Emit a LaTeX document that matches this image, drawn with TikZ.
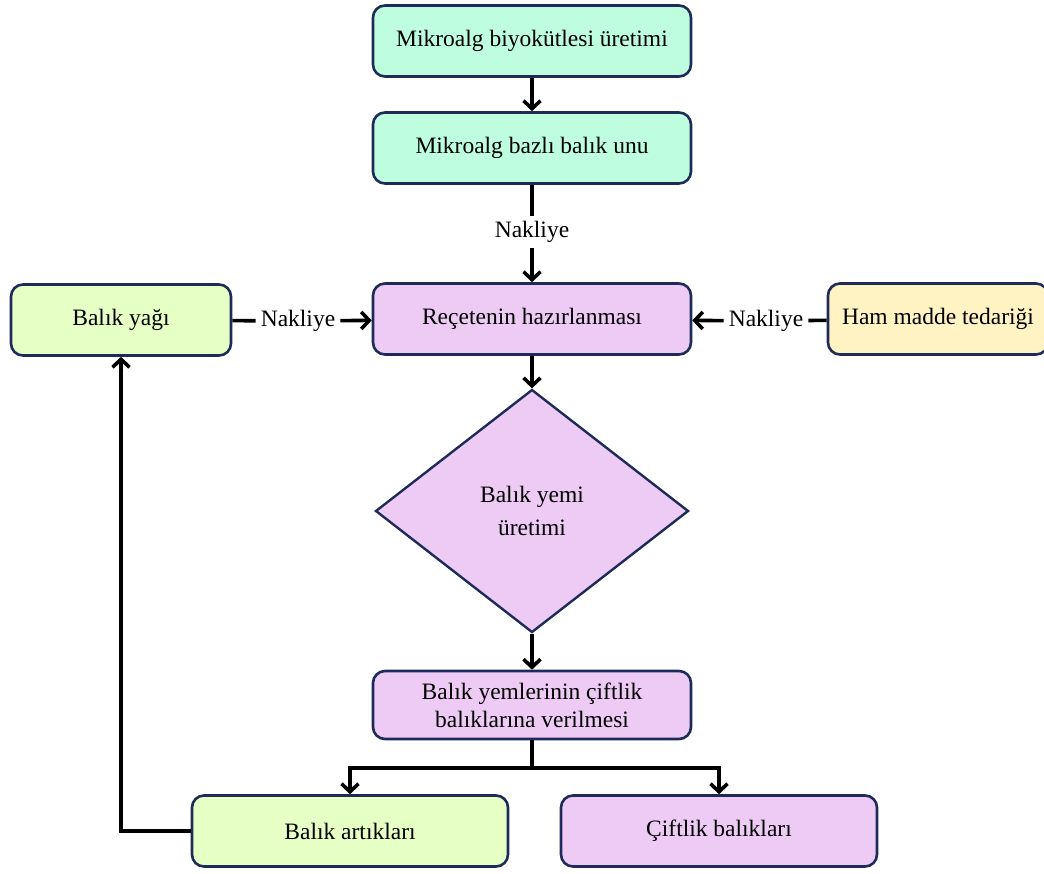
\documentclass[tikz,border=0pt]{standalone}
\usepackage{fontspec}
\setmainfont{Liberation Serif}
\usetikzlibrary{shapes.geometric,arrows.meta}

\definecolor{mint}{HTML}{BEFEDF}
\definecolor{lila}{HTML}{EDCBF5}
\definecolor{limon}{HTML}{E5FFC4}
\definecolor{krem}{HTML}{FFF2C3}
\definecolor{kenar}{HTML}{1E2B59}

\tikzset{
    kutu/.style={draw=kenar, line width=2.6pt, rounded corners=12pt,
        minimum width=318pt, minimum height=71pt, align=center,
        font=\fontsize{23.5}{28}\selectfont},
    elmas/.style={draw=kenar, line width=2.4pt, diamond, inner sep=0pt,
        minimum width=313pt, minimum height=243pt, align=center,
        font=\fontsize{23.5}{33}\selectfont},
    etiket/.style={inner sep=5pt, font=\fontsize{23.5}{28}\selectfont},
    ok/.style={line width=3.6pt, -{Straight Barb[length=8pt,width=17pt]}},
    hat/.style={line width=3.6pt}
}

\begin{document}
\begin{tikzpicture}[x=1pt,y=-1pt]
    \useasboundingbox (0,0) rectangle (1044,873);
    \node[kutu, fill=mint] (mBio) at (532,41)  {Mikroalg biyokütlesi üretimi};
    \node[kutu, fill=mint] (mUnu) at (532,148) {Mikroalg bazlı balık unu};
    \node[kutu, fill=lila] (rHaz) at (532,319) {Reçetenin hazırlanması};
    \node[kutu, fill=limon, minimum width=220pt] (bYag) at (121,320) {Balık yağı};
    \node[kutu, fill=krem, minimum width=220pt] (hTed) at (938,319) {Ham madde tedariği};
    \node[elmas, fill=lila] (dUre) at (532,511) {Balık yemi\\üretimi};
    \node[kutu, fill=lila, minimum height=68pt] (vVer) at (532,705) {Balık yemlerinin çiftlik\\balıklarına verilmesi};
    \node[kutu, fill=limon, minimum width=316pt] (bArt) at (350,831) {Balık artıkları};
    \node[kutu, fill=lila, minimum width=316pt] (cBal) at (719,831) {Çiftlik balıkları};

    \node[etiket] (nUst) at (532,232) {Nakliye};
    \node[etiket] (nSol) at (298,321) {Nakliye};
    \node[etiket] (nSag) at (766,321) {Nakliye};
    \coordinate (dal) at (532,768);

    \draw[ok] (mBio) -- (mUnu);
    \draw[hat] (mUnu) -- (nUst);
    \draw[ok] (nUst) -- (rHaz);
    \draw[hat] (bYag) -- (nSol);
    \draw[ok] (nSol) -- (rHaz);
    \draw[hat] (hTed) -- (nSag);
    \draw[ok] (nSag) -- (rHaz);
    \draw[ok] (rHaz) -- (dUre);
    \draw[ok] (dUre) -- (vVer);
    \draw[hat] (vVer) -- (dal);
    \draw[ok] (dal) -| (bArt.north);
    \draw[ok] (dal) -| (cBal.north);
    \draw[ok] (bArt.west) -| (bYag.south);
\end{tikzpicture}
\end{document}
